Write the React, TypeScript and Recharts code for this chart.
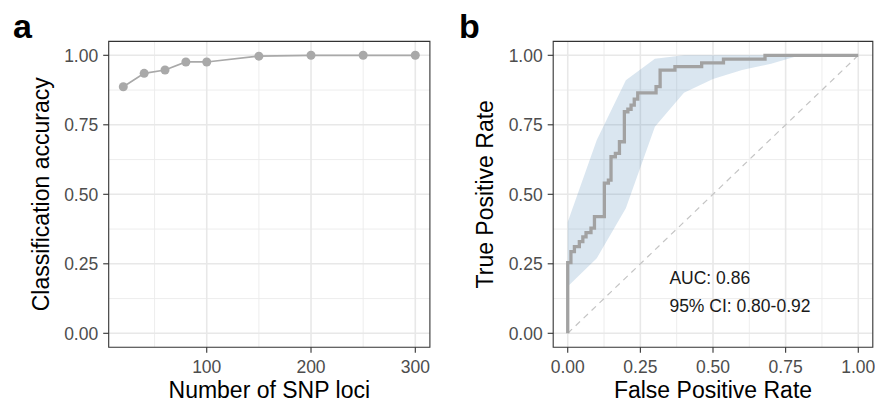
import {
  ComposedChart,
  LineChart,
  Line,
  Area,
  XAxis,
  YAxis,
  CartesianGrid,
  ReferenceArea,
  ReferenceLine,
  ReferenceDot,
  Label,
} from 'recharts';

const FONT = '"Liberation Sans", Arial, Helvetica, sans-serif';

// panel a: accuracy vs number of loci
const SNP_LOCI = [20, 40, 60, 80, 100, 150, 200, 250, 300];
const ACCURACY = [0.887, 0.935, 0.947, 0.976, 0.976, 0.997, 1.0, 1.0, 1.0];
const SNP_TICKS = [100, 200, 300];
const SNP_MINOR = [50, 150, 250];

// panel b: ROC curve (corner points) and CI band
const ROC_FPR = [
  0, 0, 0.011, 0.011, 0.023, 0.023, 0.04, 0.04, 0.052, 0.052, 0.063, 0.063, 0.08, 0.08, 0.092, 0.092,
  0.126, 0.126, 0.14, 0.14, 0.149, 0.149, 0.164, 0.164, 0.178, 0.178, 0.195, 0.195, 0.207, 0.207,
  0.218, 0.218, 0.229, 0.229, 0.241, 0.241, 0.304, 0.304, 0.318, 0.318, 0.369, 0.369, 0.461, 0.461,
  0.536, 0.536, 0.679, 0.679, 1.0,
];
const ROC_TPR = [
  0, 0.254, 0.254, 0.294, 0.294, 0.312, 0.312, 0.33, 0.33, 0.347, 0.347, 0.362, 0.362, 0.378, 0.378,
  0.42, 0.42, 0.54, 0.54, 0.551, 0.551, 0.635, 0.635, 0.647, 0.647, 0.689, 0.689, 0.797, 0.797,
  0.806, 0.806, 0.821, 0.821, 0.842, 0.842, 0.865, 0.865, 0.887, 0.887, 0.947, 0.947, 0.959, 0.959,
  0.973, 0.973, 0.986, 0.986, 1.0, 1.0,
];
const BAND_FPR = [0, 0.1, 0.2, 0.3, 0.4, 0.5, 0.6, 0.7, 0.8, 0.9, 1.0];
const BAND_LOW = [0.168, 0.27, 0.45, 0.743, 0.865, 0.915, 0.947, 0.97, 1, 1, 1];
const BAND_HIGH = [0.4, 0.695, 0.91, 0.988, 1, 1, 1, 1, 1, 1, 1];
const FPR_TICKS = [0, 0.25, 0.5, 0.75, 1];
const FPR_MINOR = [0.125, 0.375, 0.625, 0.875];

const Y_TICKS = [0, 0.25, 0.5, 0.75, 1];
const Y_MINOR = [0.125, 0.375, 0.625, 0.875];
const AUC_TEXT = ['AUC: 0.86', '95% CI: 0.80-0.92'];

const accData = SNP_LOCI.map((loci, i) => ({ loci, acc: ACCURACY[i] }));
const rocData = ROC_FPR.map((fpr, i) => ({ fpr, tpr: ROC_TPR[i] }));
const bandData = BAND_FPR.map((fpr, i) => ({ fpr, range: [BAND_LOW[i], BAND_HIGH[i]] }));

const tickStyle = { fill: '#4D4D4D', fontSize: 17.5, fontFamily: FONT };
const tickLine = { stroke: '#333333', strokeWidth: 1.1 };
const fmt2 = (v: number) => v.toFixed(2);

const xTitle = (text: string) => (props: any) => {
  const vb = props.viewBox;
  return (
    <text x={vb.x + vb.width / 2} y={vb.y + 50.3} textAnchor="middle" fontSize={23} fontFamily={FONT} fill="#000">
      {text}
    </text>
  );
};

const yTitle = (text: string) => (props: any) => {
  const vb = props.viewBox;
  const x = vb.x + vb.width - 60;
  const y = vb.y + vb.height / 2;
  return (
    <text x={x} y={y} transform={`rotate(-90 ${x} ${y})`} textAnchor="middle" fontSize={23} fontFamily={FONT} fill="#000">
      {text}
    </text>
  );
};

const AccuracyPanel = () => (
  <LineChart width={440} height={404} data={accData} margin={{ top: 41.4, right: 10.1, bottom: 0, left: 0 }}>
    <CartesianGrid stroke="#EBEBEB" strokeWidth={0.9} horizontalValues={Y_MINOR} verticalValues={SNP_MINOR} />
    <CartesianGrid stroke="#E8E8E8" strokeWidth={1.6} horizontalValues={Y_TICKS} verticalValues={SNP_TICKS} />
    <XAxis
      dataKey="loci"
      type="number"
      domain={[6, 314]}
      allowDataOverflow
      ticks={SNP_TICKS}
      height={56.8}
      axisLine={false}
      tickLine={tickLine}
      tickSize={5.5}
      tickMargin={8}
      tick={tickStyle}
    >
      <Label content={xTitle('Number of SNP loci')} />
    </XAxis>
    <YAxis
      type="number"
      domain={[-0.05, 1.05]}
      allowDataOverflow
      ticks={Y_TICKS}
      tickFormatter={fmt2}
      width={108.7}
      axisLine={false}
      tickLine={tickLine}
      tickSize={5.5}
      tickMargin={5}
      tick={tickStyle}
    >
      <Label content={yTitle('Classification accuracy')} />
    </YAxis>
    <Line
      dataKey="acc"
      type="linear"
      stroke="#A9A9A9"
      strokeWidth={1.7}
      dot={{ r: 4.5, fill: '#A9A9A9', stroke: 'none' }}
      activeDot={false}
      isAnimationActive={false}
    />
    <ReferenceArea x1={6} x2={314} y1={-0.05} y2={1.05} fill="none" stroke="#333333" strokeWidth={1.1} />
  </LineChart>
);

const RocPanel = () => (
  <ComposedChart width={435} height={404} data={bandData} margin={{ top: 41.4, right: 2.2, bottom: 0, left: 0 }}>
    <CartesianGrid stroke="#EBEBEB" strokeWidth={0.9} horizontalValues={Y_MINOR} verticalValues={FPR_MINOR} />
    <CartesianGrid stroke="#E8E8E8" strokeWidth={1.6} horizontalValues={Y_TICKS} verticalValues={FPR_TICKS} />
    <XAxis
      dataKey="fpr"
      type="number"
      domain={[-0.05, 1.05]}
      allowDataOverflow
      ticks={FPR_TICKS}
      tickFormatter={fmt2}
      height={56.8}
      axisLine={false}
      tickLine={tickLine}
      tickSize={5.5}
      tickMargin={8}
      tick={tickStyle}
    >
      <Label content={xTitle('False Positive Rate')} />
    </XAxis>
    <YAxis
      type="number"
      domain={[-0.05, 1.05]}
      allowDataOverflow
      ticks={Y_TICKS}
      tickFormatter={fmt2}
      width={113.2}
      axisLine={false}
      tickLine={tickLine}
      tickSize={5.5}
      tickMargin={5}
      tick={tickStyle}
    >
      <Label content={yTitle('True Positive Rate')} />
    </YAxis>
    <ReferenceLine
      segment={[{ x: 0, y: 0 }, { x: 1, y: 1 }]}
      stroke="#C4C4C4"
      strokeWidth={1.2}
      strokeDasharray="6 5"
    />
    <Line
      data={rocData}
      dataKey="tpr"
      type="linear"
      stroke="#A2A2A2"
      strokeWidth={3.3}
      dot={false}
      activeDot={false}
      isAnimationActive={false}
    />
    <Area
      dataKey="range"
      type="linear"
      fill="#4682B4"
      fillOpacity={0.2}
      stroke="none"
      activeDot={false}
      isAnimationActive={false}
    />
    {AUC_TEXT.map((t, i) => (
      <ReferenceDot
        key={t}
        x={0.35}
        y={0.2 - i * 0.1}
        r={0}
        shape={(p: any) => (
          <text x={p.cx} y={p.cy + 6} fontSize={17.5} fontFamily={FONT} fill="#1A1A1A">
            {t}
          </text>
        )}
      />
    ))}
    <ReferenceArea x1={-0.05} x2={1.05} y1={-0.05} y2={1.05} fill="none" stroke="#333333" strokeWidth={1.1} />
  </ComposedChart>
);

export default function App() {
  return (
    <div style={{ position: 'absolute', left: 0, top: 0, width: 875, height: 404, background: '#fff' }}>
      <div style={{ position: 'absolute', left: 0, top: 0 }}>
        <AccuracyPanel />
      </div>
      <div style={{ position: 'absolute', left: 440, top: 0 }}>
        <RocPanel />
      </div>
      <svg width={875} height={404} style={{ position: 'absolute', left: 0, top: 0, pointerEvents: 'none' }}>
        <text x={13} y={38} fontSize={34} fontWeight="bold" fontFamily={FONT} fill="#000">a</text>
        <text x={459} y={38} fontSize={34} fontWeight="bold" fontFamily={FONT} fill="#000">b</text>
      </svg>
    </div>
  );
}
